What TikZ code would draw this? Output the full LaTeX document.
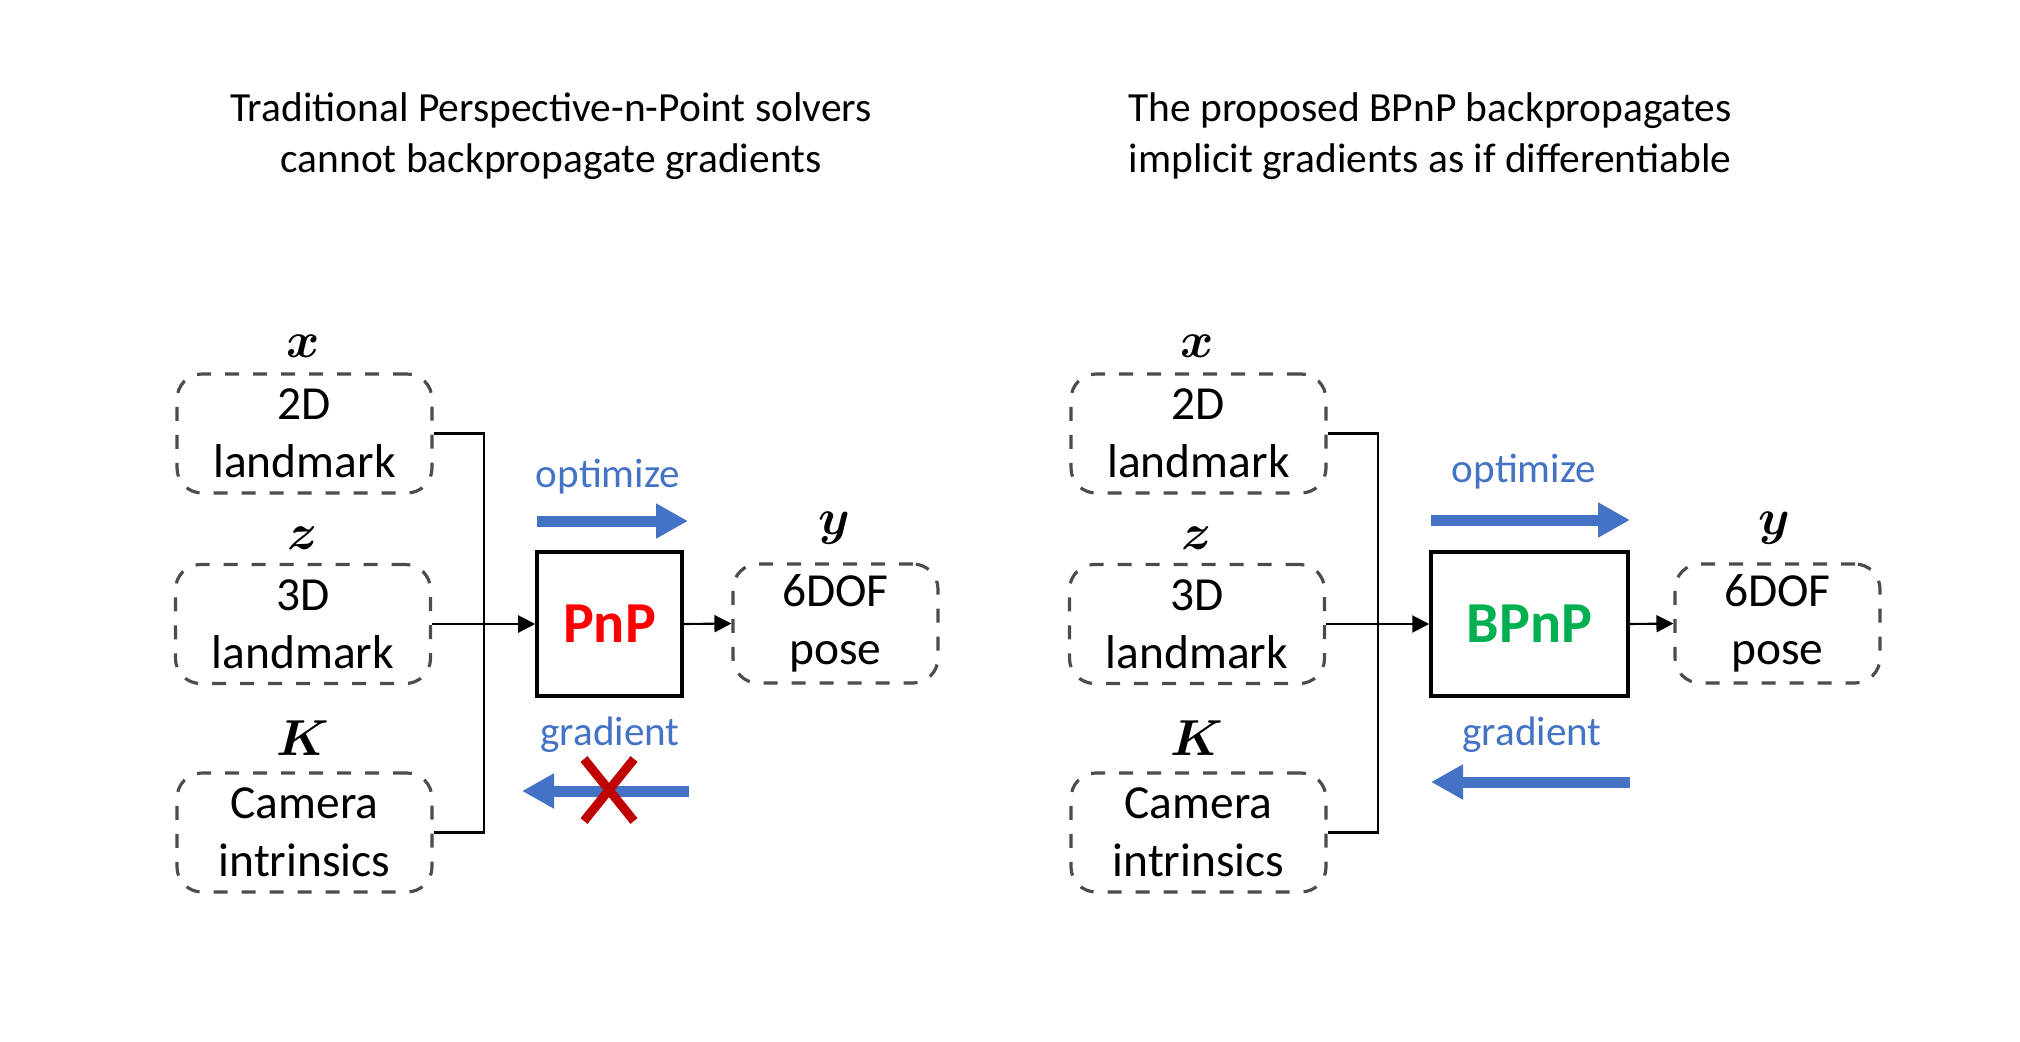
\documentclass[tikz,border=0pt]{standalone}
\usepackage{fontspec}
\setmainfont{Carlito}
\usepackage{amsmath}
\usetikzlibrary{arrows.meta,positioning}

\definecolor{arrowblue}{HTML}{4472C4}
\definecolor{pnpred}{HTML}{FF0000}
\definecolor{bpnpgreen}{HTML}{00B050}
\definecolor{crossred}{HTML}{C00000}

\tikzset{
    inbox/.style={draw=black!70, line width=0.9pt, dash pattern=on 1.4mm off 1.4mm,
        rounded corners=2.5mm, minimum width=2.55cm, minimum height=1.19cm,
        inner sep=0pt, align=center, font=\fontsize{13.5}{16.5}\selectfont},
    solver/.style={draw, line width=1pt, minimum height=1.44cm, inner sep=0pt,
        font=\fontsize{16.5}{20}\selectfont\bfseries},
    varlabel/.style={font=\fontsize{15.5}{18}\selectfont\boldmath},
    flowlabel/.style={text=arrowblue, font=\fontsize{11.7}{14}\selectfont},
    title/.style={align=center, font=\fontsize{11.8}{14.5}\selectfont},
    link/.style={line width=0.6pt},
    feed/.style={link, -{Triangle[length=1.7mm,width=1.7mm]}},
    flow/.style={draw=arrowblue, line width=1.1mm, -{Triangle[length=3.2mm,width=3.3mm]}},
    crossmark/.style={draw=crossred, line width=0.9mm},
}

\begin{document}
\begin{tikzpicture}
    \useasboundingbox (0,0) rectangle (20.2,-10.42);

    % Titles
    \node[title] (title-l) at (5.51,-1.36) {Traditional Perspective-n-Point solvers\\cannot backpropagate gradients};
    \node[title] (title-r) at (14.30,-1.36) {The proposed BPnP backpropagates\\implicit gradients as if differentiable};

    % Inputs of both panels
    \foreach \p/\dx in {l/0, r/8.94} {
        \node[inbox] (land2d-\p) at (3.045+\dx,-4.335) {2D\\landmark};
        \node[inbox] (land3d-\p) at (3.03+\dx,-6.24) {3D\\landmark};
        \node[inbox] (cam-\p) at (3.045+\dx,-8.325) {Camera\\intrinsics};
        \node[varlabel] (x-\p) at (3.03+\dx,-3.46) {$x$};
        \node[varlabel] (z-\p) at (3.03+\dx,-5.38) {$z$};
        \node[varlabel] (K-\p) at (3.03+\dx,-7.38) {$K$};
        \coordinate (bus-\p) at (4.84+\dx,-8.325);
        \draw[link] (land2d-\p.east) -| (bus-\p) -- (cam-\p.east);
    }

    % Solvers and outputs
    \node[solver, minimum width=1.45cm, text=pnpred] (pnp) at (6.095,-6.24) {PnP};
    \node[solver, minimum width=1.97cm, text=bpnpgreen] (bpnp) at (15.295,-6.24) {BPnP};
    \node[inbox, minimum width=2.05cm] (pose-l) at (8.355,-6.235) {6DOF\\pose};
    \node[inbox, minimum width=2.05cm] (pose-r) at (17.775,-6.235) {6DOF\\pose};
    \node[varlabel] (y-l) at (8.34,-5.28) {$y$};
    \node[varlabel] (y-r) at (17.74,-5.28) {$y$};

    % Data flow
    \draw[feed] (land3d-l.east) -- (pnp.west);
    \draw[feed] (pnp.east) -- (pose-l.west);
    \draw[feed] (land3d-r.east) -- (bpnp.west);
    \draw[feed] (bpnp.east) -- (pose-r.west);

    % Optimize and gradient arrows
    \coordinate (opt-a-l) at (5.37,-5.21);
    \coordinate (opt-b-l) at (6.88,-5.21);
    \coordinate (grad-a-l) at (6.89,-7.91);
    \coordinate (grad-b-l) at (5.22,-7.91);
    \coordinate (opt-a-r) at (14.31,-5.20);
    \coordinate (opt-b-r) at (16.30,-5.20);
    \coordinate (grad-a-r) at (16.30,-7.82);
    \coordinate (grad-b-r) at (14.31,-7.82);
    \draw[flow] (opt-a-l) -- (opt-b-l);
    \draw[flow] (grad-a-l) -- (grad-b-l);
    \draw[flow] (opt-a-r) -- (opt-b-r);
    \draw[flow] (grad-a-r) -- (grad-b-r);
    \node[flowlabel] (opt-l) at (6.08,-4.77) {optimize};
    \node[flowlabel] (grad-l) at (6.10,-7.35) {gradient};
    \node[flowlabel] (opt-r) at (15.24,-4.72) {optimize};
    \node[flowlabel] (grad-r) at (15.32,-7.35) {gradient};

    % Blocked gradient
    \coordinate (cross) at (6.09,-7.90);
    \draw[crossmark] ([shift={(-0.25,0.31)}]cross) -- ([shift={(0.25,-0.31)}]cross);
    \draw[crossmark] ([shift={(0.25,0.31)}]cross) -- ([shift={(-0.25,-0.31)}]cross);
\end{tikzpicture}
\end{document}
